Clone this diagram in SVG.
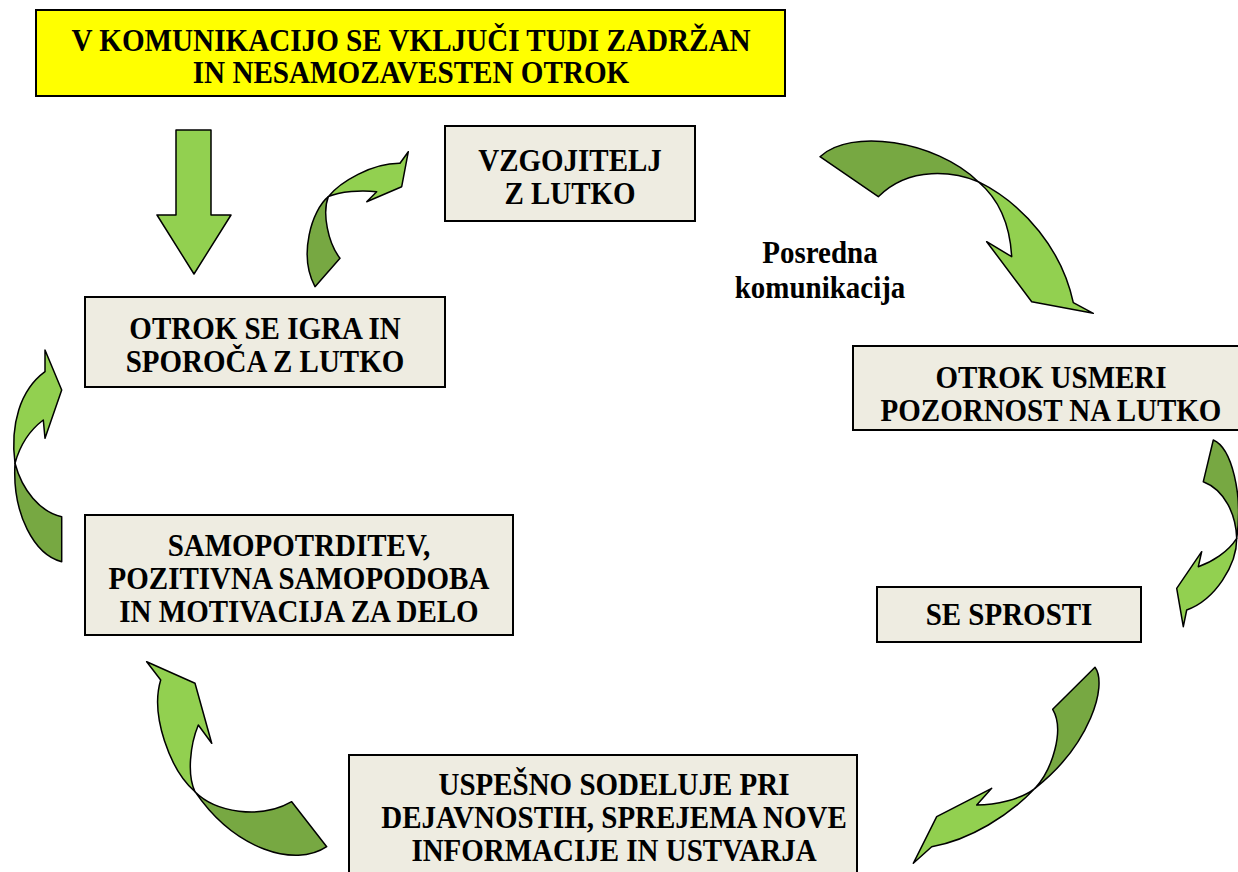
<svg xmlns="http://www.w3.org/2000/svg" width="1238" height="872" viewBox="0 0 1238 872">
<style>
.box{fill:#EEECE1;stroke:#000;stroke-width:2}
.yel{fill:#FFFF00;stroke:#000;stroke-width:2}
.t{font-family:"Liberation Serif","Times New Roman",serif;font-weight:bold;font-size:31px;fill:#000;text-anchor:middle}
.lt{fill:#92D050;stroke:#000;stroke-width:1.5;stroke-linejoin:round}
.dk{fill:#77A842;stroke:#000;stroke-width:1.5;stroke-linejoin:round}
</style>
<rect width="1238" height="872" fill="#fff"/>
<g id="n-top">
<rect class="yel" x="36" y="10" width="749" height="86"/>
<text class="t" transform="translate(411,51) scale(0.94,1)">V KOMUNIKACIJO SE VKLJUČI TUDI ZADRŽAN</text>
<text class="t" transform="translate(411,83) scale(0.94,1)">IN NESAMOZAVESTEN OTROK</text>
</g>
<g id="n-vzgojitelj">
<rect class="box" x="445" y="126" width="250" height="95"/>
<text class="t" transform="translate(570,171) scale(0.935,1)">VZGOJITELJ</text>
<text class="t" transform="translate(570,204) scale(0.935,1)">Z LUTKO</text>
</g>
<g id="n-igra">
<rect class="box" x="85" y="297" width="360" height="90"/>
<text class="t" transform="translate(265,339) scale(0.935,1)">OTROK SE IGRA IN</text>
<text class="t" transform="translate(265,372) scale(0.935,1)">SPOROČA Z LUTKO</text>
</g>
<g id="n-usmeri">
<rect class="box" x="853" y="346" width="386" height="84"/>
<text class="t" transform="translate(1051,388) scale(0.935,1)">OTROK USMERI</text>
<text class="t" transform="translate(1051,421) scale(0.935,1)">POZORNOST NA LUTKO</text>
</g>
<g id="n-sprosti">
<rect class="box" x="877" y="587" width="264" height="55"/>
<text class="t" transform="translate(1009,625) scale(0.935,1)">SE SPROSTI</text>
</g>
<g id="n-samopotrditev">
<rect class="box" x="85" y="515" width="428" height="120"/>
<text class="t" transform="translate(299,556) scale(0.935,1)">SAMOPOTRDITEV,</text>
<text class="t" transform="translate(299,589) scale(0.935,1)">POZITIVNA SAMOPODOBA</text>
<text class="t" transform="translate(299,622) scale(0.935,1)">IN MOTIVACIJA ZA DELO</text>
</g>
<g id="n-uspesno">
<rect class="box" x="349" y="755" width="508" height="120"/>
<text class="t" transform="translate(614,795) scale(0.935,1)">USPEŠNO SODELUJE PRI</text>
<text class="t" transform="translate(614,828) scale(0.935,1)">DEJAVNOSTIH, SPREJEMA NOVE</text>
<text class="t" transform="translate(614,861) scale(0.935,1)">INFORMACIJE IN USTVARJA</text>
</g>
<g id="label-posredna">
<text class="t" transform="translate(820,263) scale(0.935,1)">Posredna</text>
<text class="t" transform="translate(820,298) scale(0.935,1)">komunikacija</text>
</g>
<g id="connectors">
<path class="lt" d="M176,130 L211,130 L211,215 L231,215 L194,274 L157,215 L176,215 Z"/>
<path class="dk" d="M328.3,196.7 C312,210 298,255 315,286.7 L340,258.3 C328,243 322,213 328.3,196.7 Z"/>
<path class="lt" d="M328.3,196.7 C340,182 372,163 400,163.3 L408.3,151.7 L401.7,186.7 L366.7,201.7 L376.7,191.7 C362,190 340,191 328.3,196.7 Z"/>
<path class="dk" d="M820,156.7 C850,128 935,140 978.3,181.7 C955,172 910,165 878.3,196.7 Z"/>
<path class="lt" d="M978.3,181.7 C1025,205 1062,250 1073.3,302.7 L1093.3,313.3 L1031.7,301.7 L986.7,241.7 L1011.7,256.7 C1010,225 1000,200 978.3,181.7 Z"/>
<path class="dk" d="M1213.3,440 C1232,448 1243,495 1236.7,538.3 C1236,515 1225,490 1203.3,481.7 Z"/>
<path class="lt" d="M1236.7,538.3 C1237,565 1215,600 1186.7,610 L1183.3,626.7 L1176.7,588.3 L1201.7,551.7 L1198.3,566.7 C1212,562 1228,552 1236.7,538.3 Z"/>
<path class="dk" d="M1095,667.3 C1108,685 1090,745 1035,788.3 C1052,770 1065,730 1052.7,709.3 Z"/>
<path class="lt" d="M1035,788.3 C1010,815 970,840 931.7,846.7 L913.3,863.3 L936.7,816.7 L991.7,788.3 L976.7,805 C995,805 1020,800 1035,788.3 Z"/>
<path class="dk" d="M291.7,801.7 L326.7,846.7 C295,868 235,850 195,791.7 C215,812 260,820 291.7,801.7 Z"/>
<path class="lt" d="M195,791.7 C170,770 150,715 160.7,680 L146.7,661.7 L195,683.3 L211.7,743.3 L198.3,725 C190,745 187,775 195,791.7 Z"/>
<path class="dk" d="M61.7,516.7 L61.7,561.7 C35,555 12,515 15,463.3 C22,490 40,512 61.7,516.7 Z"/>
<path class="lt" d="M15,463.3 C10,425 20,390 45,371.7 L45,350 L61.7,390 L45,438.3 L43.3,420 C30,430 20,445 15,463.3 Z"/>
</g>
</svg>
